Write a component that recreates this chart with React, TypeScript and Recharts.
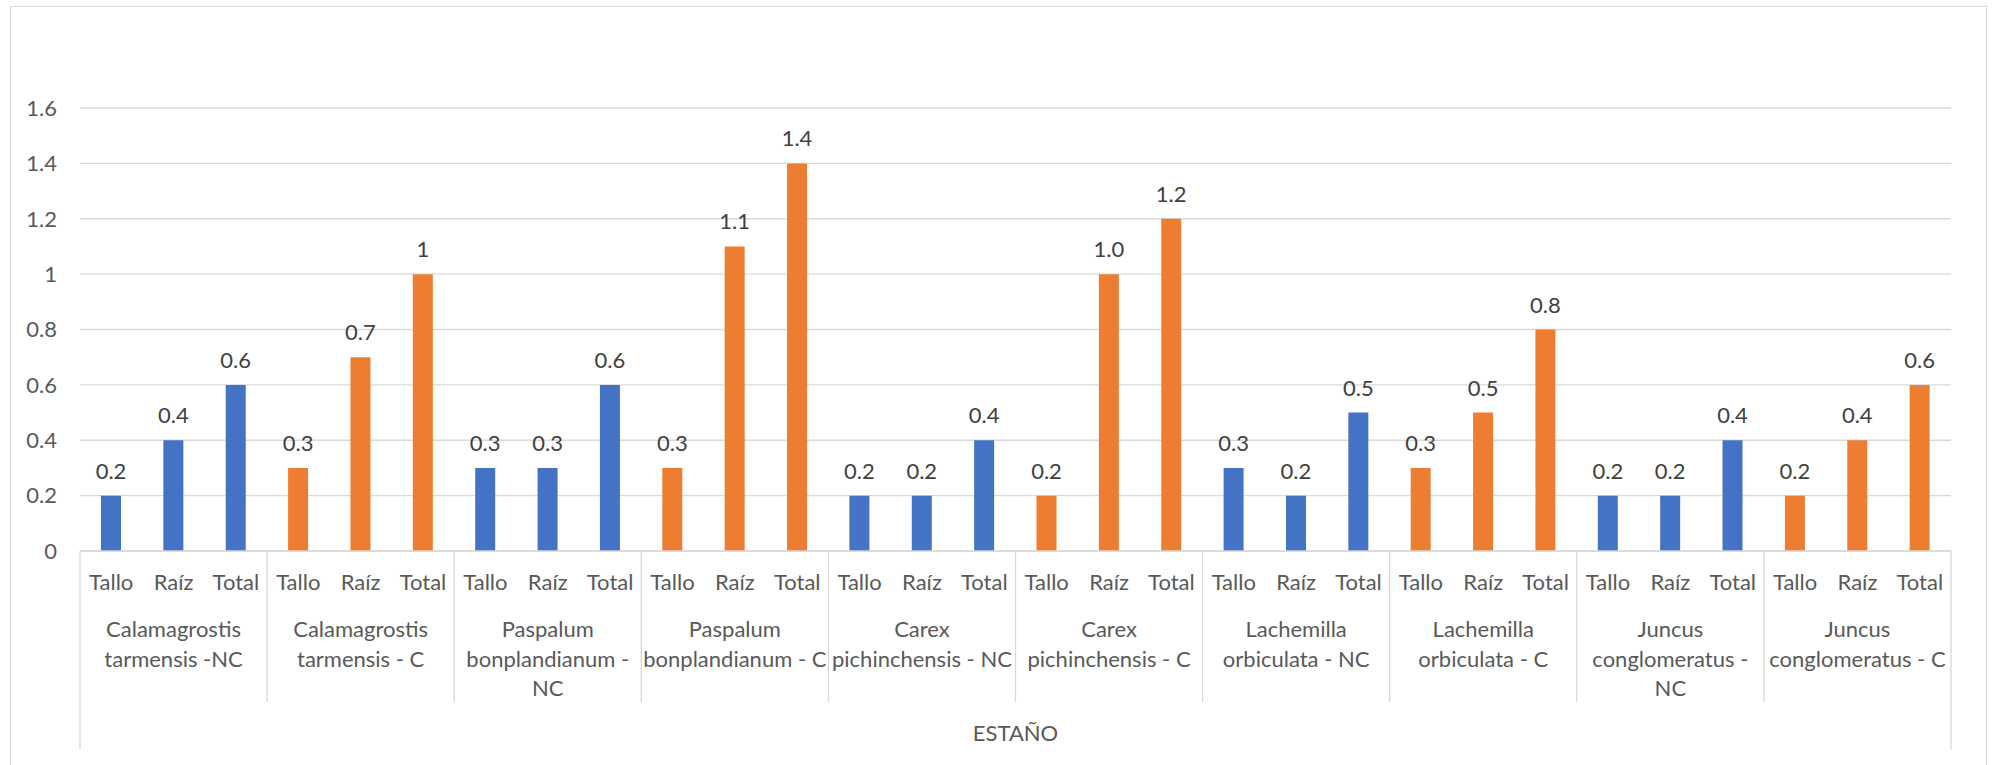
import { BarChart, Bar, XAxis, YAxis, CartesianGrid, Cell, LabelList } from "recharts";

// grupos (especie - condición) y valores de estaño por parte de la planta
const groupLabels = [
  "Calamagrostis\ntarmensis -NC",
  "Calamagrostis\ntarmensis - C",
  "Paspalum\nbonplandianum -\nNC",
  "Paspalum\nbonplandianum - C",
  "Carex\npichinchensis - NC",
  "Carex\npichinchensis - C",
  "Lachemilla\norbiculata - NC",
  "Lachemilla\norbiculata - C",
  "Juncus\nconglomeratus -\nNC",
  "Juncus\nconglomeratus - C",
];
const parts = ["Tallo", "Raíz", "Total"];
const tallo = [0.2, 0.3, 0.3, 0.3, 0.2, 0.2, 0.3, 0.3, 0.2, 0.2];
const raiz = [0.4, 0.7, 0.3, 1.1, 0.2, 1.0, 0.2, 0.5, 0.2, 0.4];
const total = [0.6, 1, 0.6, 1.4, 0.4, 1.2, 0.5, 0.8, 0.4, 0.6];
const yTicks = [0, 0.2, 0.4, 0.6, 0.8, 1, 1.2, 1.4, 1.6];
const axisTitle = "ESTAÑO";

const BLUE = "#4472C4";
const ORANGE = "#ED7D31";
const GRID = "#d9d9d9";
const TEXT = "#595959";
const FONT = "Lato, 'Open Sans', sans-serif";
const FS = 22;

const data = groupLabels.flatMap((g, gi) =>
  parts.map((p, pi) => {
    const v = [tallo, raiz, total][pi][gi];
    return {
      key: `${gi}-${p}`,
      part: p,
      group: gi,
      value: v,
      label: pi === 2 ? String(v) : v.toFixed(1),
      fill: gi % 2 === 0 ? BLUE : ORANGE,
    };
  })
);

function AxisTick(props: any) {
  const { x, y, payload, index } = props;
  const half = payload?.offset ?? 31.2;
  const d = data[index];
  if (!d) return null;
  const first = index % 3 === 0;
  const last = index === data.length - 1;
  const lines = groupLabels[d.group].split("\n");
  return (
    <g>
      <text x={x} y={y + 39} textAnchor="middle" fill={TEXT} fontSize={FS} fontFamily={FONT}>
        {d.part}
      </text>
      {first && (
        <line x1={x - half} x2={x - half} y1={y} y2={index === 0 ? y + 199 : y + 151} stroke={GRID} strokeWidth={1.3} />
      )}
      {last && <line x1={x + half} x2={x + half} y1={y} y2={y + 199} stroke={GRID} strokeWidth={1.3} />}
      {index % 3 === 1 &&
        lines.map((l, i) => (
          <text key={i} x={x} y={y + 86 + i * 29.5} textAnchor="middle" fill={TEXT} fontSize={FS} fontFamily={FONT}>
            {l}
          </text>
        ))}
      {index === data.length / 2 && (
        <text x={x - half} y={y + 190} textAnchor="middle" fill={TEXT} fontSize={FS} fontFamily={FONT}>
          {axisTitle}
        </text>
      )}
    </g>
  );
}

export default function App() {
  return (
    <div style={{ position: "absolute", left: 0, top: 0, width: 1997, height: 765, background: "#fff", overflow: "hidden", fontFamily: FONT }}>
      <div
        style={{
          position: "absolute",
          left: 10,
          top: 6,
          width: 1977,
          height: 780,
          border: `1.3px solid ${GRID}`,
          boxSizing: "border-box",
        }}
      />
      <div style={{ position: "absolute", left: 0, top: 0 }}>
        <BarChart width={1997} height={765} data={data} margin={{ top: 108, right: 46, left: 10, bottom: 14 }}>
          <CartesianGrid vertical={false} stroke={GRID} strokeWidth={1.3} />
          <XAxis
            dataKey="key"
            interval={0}
            height={200}
            tickSize={0}
            tickMargin={0}
            tickLine={false}
            axisLine={{ stroke: GRID, strokeWidth: 1.3 }}
            tick={<AxisTick />}
          />
          <YAxis
            width={70}
            domain={[0, 1.6]}
            ticks={yTicks}
            axisLine={false}
            tickLine={false}
            tickSize={0}
            tickMargin={23}
            tick={{ fill: TEXT, fontSize: FS, fontFamily: FONT }}
          />
          <Bar dataKey="value" barSize={20} isAnimationActive={false}>
            {data.map((d) => (
              <Cell key={d.key} fill={d.fill} />
            ))}
            <LabelList dataKey="label" position="top" offset={17} fill="#404040" fontSize={FS} fontFamily={FONT} />
          </Bar>
        </BarChart>
      </div>
    </div>
  );
}
